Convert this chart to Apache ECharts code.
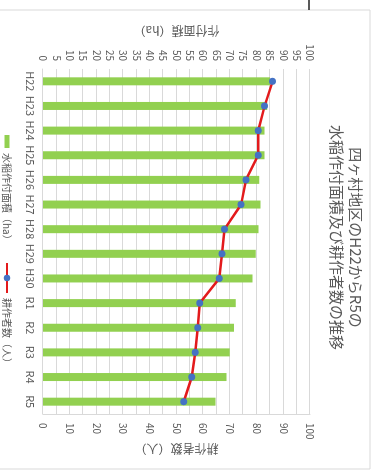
<!DOCTYPE html>
<html>
<head>
<meta charset="utf-8">
<script src="https://cdn.jsdelivr.net/npm/echarts@6/dist/echarts.min.js"></script>
<style>
  html, body { margin: 0; padding: 0; background: #fff; overflow: hidden; }
  /* the reference is photographed turned a quarter clockwise */
  #main {
    position: absolute; left: 378px; top: 0;
    width: 475px; height: 378px;
    transform-origin: 0 0; transform: rotate(90deg);
  }
</style>
</head>
<body>
<div id="main"></div>
<script>
const years = ['H22', 'H23', 'H24', 'H25', 'H26', 'H27', 'H28', 'H29', 'H30', 'R1', 'R2', 'R3', 'R4', 'R5'];
const area = [85, 84, 83, 83, 81, 81.5, 80.7, 79.7, 78.5, 72.2, 71.5, 69.9, 68.7, 64.6];
const farmers = [86, 83, 80.6, 80.6, 76, 74.2, 68, 67, 66, 58.7, 58, 57, 55.7, 52.7];

const gray = '#595959';
const lineGray = '#D9D9D9';

let myChart = echarts.init(document.getElementById('main'));
myChart.setOption({
  animation: false,
  backgroundColor: '#fff',
  textStyle: { fontFamily: 'Noto Sans CJK JP' },
  title: {
    text: '四ヶ村地区のH22からR5の\n水稲作付面積及び耕作者数の推移',
    left: 'center',
    top: 8,
    textStyle: { color: gray, fontSize: 15, fontWeight: 'normal', lineHeight: 19 }
  },
  graphic: [
    {
      type: 'rect',
      shape: { x: 10, y: 8, width: 459, height: 420 },
      style: { fill: 'none', stroke: lineGray, lineWidth: 1 }
    },
    {
      type: 'line',
      shape: { x1: 0, y1: 69, x2: 10, y2: 69 },
      style: { stroke: '#222', lineWidth: 1.5 }
    }
  ],
  legend: [
    {
      data: [{ name: '水稲作付面積（ha）', icon: 'rect' }],
      left: 130, top: 361,
      itemWidth: 13, itemHeight: 5,
      textStyle: { color: gray, fontSize: 10 }
    },
    {
      data: ['耕作者数（人）'],
      left: 257, top: 361,
      itemWidth: 30, itemHeight: 8,
      textStyle: { color: gray, fontSize: 10 }
    }
  ],
  grid: { left: 69, right: 61, top: 68, bottom: 43 },
  xAxis: {
    type: 'category',
    data: years,
    axisLine: { lineStyle: { color: lineGray } },
    axisTick: { show: false },
    axisLabel: { color: gray, fontSize: 11, margin: 7, interval: 0 }
  },
  yAxis: [
    {
      type: 'value',
      min: 0, max: 100, interval: 5,
      name: '作付面積（ha）',
      nameLocation: 'middle',
      nameRotate: -90,
      nameGap: 32,
      nameMoveOverlap: false,
      nameTextStyle: { color: gray, fontSize: 12 },
      axisLabel: { color: gray, fontSize: 10, margin: 8 },
      splitLine: { lineStyle: { color: lineGray } }
    },
    {
      type: 'value',
      min: 0, max: 100, interval: 10,
      name: '耕作者数（人）',
      nameLocation: 'middle',
      nameRotate: -90,
      nameGap: 29,
      nameMoveOverlap: false,
      nameTextStyle: { color: gray, fontSize: 12 },
      axisLine: { show: true, lineStyle: { color: lineGray } },
      axisLabel: { color: gray, fontSize: 10, margin: 9 },
      splitLine: { show: false }
    }
  ],
  series: [
    {
      name: '水稲作付面積（ha）',
      type: 'bar',
      barWidth: 8,
      data: area,
      itemStyle: { color: '#92D050' }
    },
    {
      name: '耕作者数（人）',
      type: 'line',
      yAxisIndex: 1,
      data: farmers,
      symbol: 'circle',
      symbolSize: 7,
      itemStyle: { color: '#4472C4' },
      lineStyle: { color: '#E31A1C', width: 2.5 },
      z: 3
    }
  ]
});
</script>
</body>
</html>
